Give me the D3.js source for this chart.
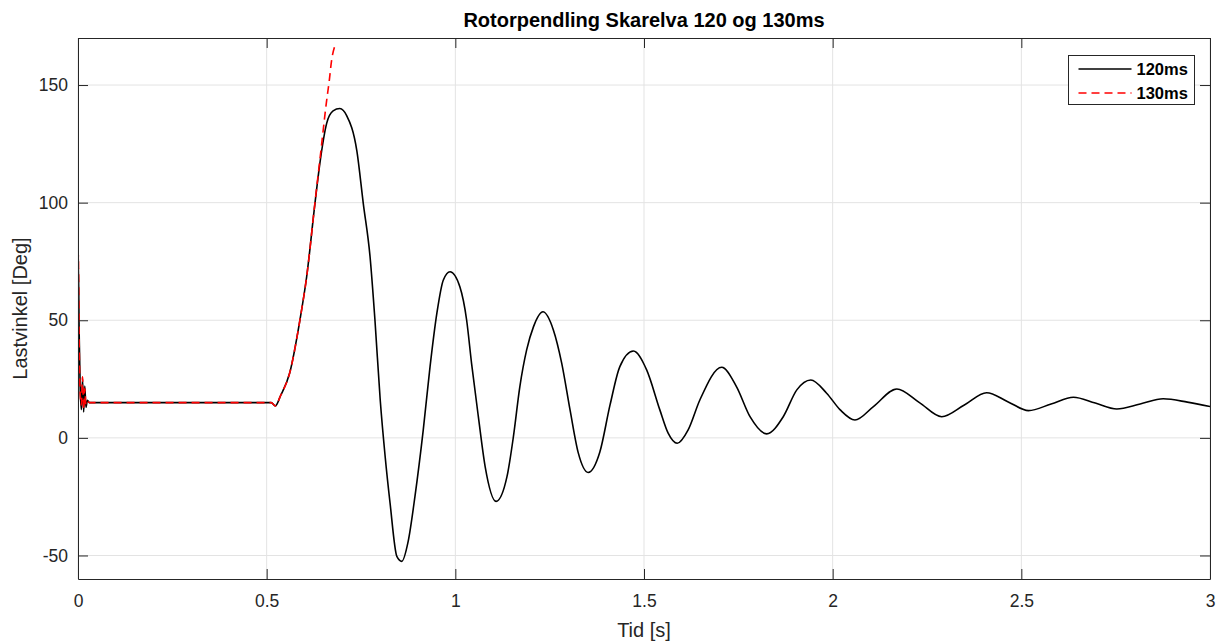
<!DOCTYPE html>
<html>
<head>
<meta charset="utf-8">
<script src="https://cdn.jsdelivr.net/npm/d3@7"></script>
<style>
  html, body { margin: 0; padding: 0; background: #ffffff; }
  svg { display: block; font-family: "Liberation Sans", Arial, Helvetica, sans-serif; }
</style>
</head>
<body>
<svg id="chart" width="1217" height="641"></svg>
<script>
// Load angle after the fault, two clearing times.
const seriesNames = ["120ms", "130ms"];

// 120 ms clearing time: time [s]
const time120 = [
  0, 0.0008, 0.003, 0.006, 0.009, 0.012, 0.015, 0.018, 0.021, 0.025, 0.03,
  0.25, 0.50, 0.512, 0.523, 0.537, 0.561, 0.588, 0.606, 0.628, 0.641, 0.659, 0.676,
  0.694, 0.712, 0.739, 0.756, 0.774, 0.787, 0.801, 0.814, 0.827, 0.845, 0.858,
  0.875, 0.893, 0.915, 0.933, 0.951, 0.968, 0.986, 1.012, 1.030, 1.043, 1.061, 1.079,
  1.108, 1.137, 1.154, 1.171, 1.189, 1.207, 1.232, 1.260, 1.282, 1.304, 1.326,
  1.352, 1.383, 1.410, 1.436, 1.472, 1.507, 1.542, 1.564, 1.588, 1.617, 1.648,
  1.706, 1.745, 1.781, 1.825, 1.869, 1.905, 1.942, 1.984, 2.020, 2.059, 2.108,
  2.170, 2.230, 2.289, 2.349, 2.408, 2.464, 2.519, 2.579, 2.638, 2.696, 2.753,
  2.815, 2.876, 2.940, 3.0
];
// 120 ms clearing time: load angle [deg]
const angle120 = [
  -12, 76, 45, 20, 12, 25, 11, 22, 13, 16, 15,
  15, 15, 15, 13.6, 18, 27.6, 50, 68.5, 99.7, 116.7, 133.7, 139,
  140, 137, 122, 99.7, 77, 50, 16, -7.9, -27.7, -50.4, -52.5,
  -44, -24.9, 3.4, 30.3, 52.9, 67, 70.6, 64.2, 50, 31.7, 9, -12.2,
  -27, -16.4, 0.6, 21.8, 37.4, 47.2, 53.6, 45.8, 31.7, 11.9, -6.5,
  -14.7, -6, 14, 30.3, 36.9, 28.9, 11.9, 2, -2.3, 3.4, 16.1,
  30, 21.8, 9, 1.7, 9, 20.4, 24.6, 19, 11.9, 7.6, 13.3,
  20.8, 15, 9, 14, 19.2, 15.4, 11.6, 14.4, 17.3, 14.8, 12.3,
  14.4, 16.6, 15.2, 13.3
];

// 130 ms clearing time: time [s]
const time130 = [
  0, 0.0008, 0.003, 0.006, 0.009, 0.012, 0.015, 0.018, 0.021, 0.025, 0.03,
  0.25, 0.50, 0.512, 0.523, 0.537, 0.561, 0.588, 0.606, 0.628, 0.643, 0.659,
  0.666, 0.672, 0.681
];
// 130 ms clearing time: load angle [deg]
const angle130 = [
  -13, 78, 42, 18, 14, 26, 12, 21, 14, 15.5, 15,
  15, 15, 15, 13.6, 18, 27.6, 50, 68.5, 100, 121, 143.5,
  152, 160.4, 166.8
];

const xTicks = [0, 0.5, 1, 1.5, 2, 2.5, 3];
const yTicks = [-50, 0, 50, 100, 150];
const xDomain = [0, 3];
const yDomain = [-60, 170];

const titleText = "Rotorpendling Skarelva 120 og 130ms";
const xLabelText = "Tid [s]";
const yLabelText = "Lastvinkel [Deg]";

// ---- layout ----
const W = 1217, H = 641;
const margin = { left: 78, right: 7, top: 38, bottom: 62 };
const pw = W - margin.left - margin.right;
const ph = H - margin.top - margin.bottom;
const axisColor = "#262626";
const gridColor = "#e3e3e3";
const tickLen = 10;
const fontFamily = "'Liberation Sans', Arial, sans-serif";

const svg = d3.select("#chart");
const g = svg.append("g").attr("transform", `translate(${margin.left},${margin.top})`);

const x = d3.scaleLinear().domain(xDomain).range([0, pw]);
const y = d3.scaleLinear().domain(yDomain).range([ph, 0]);

// grid
g.append("g").selectAll("line").data(xTicks).join("line")
  .attr("x1", d => x(d)).attr("x2", d => x(d))
  .attr("y1", 0).attr("y2", ph)
  .attr("stroke", gridColor).attr("stroke-width", 1);
g.append("g").selectAll("line").data(yTicks).join("line")
  .attr("x1", 0).attr("x2", pw)
  .attr("y1", d => y(d)).attr("y2", d => y(d))
  .attr("stroke", gridColor).attr("stroke-width", 1);

// clip for data
svg.append("defs").append("clipPath").attr("id", "plotClip")
  .append("rect").attr("x", 0).attr("y", 0).attr("width", pw).attr("height", ph);

const line = d3.line()
  .x(d => x(d[0]))
  .y(d => y(d[1]))
  .curve(d3.curveMonotoneX);

const data120 = time120.map((t, i) => [t, angle120[i]]);
const data130 = time130.map((t, i) => [t, angle130[i]]);

const plot = g.append("g").attr("clip-path", "url(#plotClip)");
plot.append("path").datum(data120)
  .attr("d", line)
  .attr("fill", "none")
  .attr("stroke", "#000000")
  .attr("stroke-width", 1.6)
  .attr("stroke-linejoin", "round");
plot.append("path").datum(data130)
  .attr("d", line)
  .attr("fill", "none")
  .attr("stroke", "#ff0000")
  .attr("stroke-width", 1.6)
  .attr("stroke-dasharray", "8,5");

// axes (inward ticks on all four sides)
const fmt = d => String(d);
const axB = d3.axisBottom(x).tickValues(xTicks).tickFormat(fmt).tickSizeInner(-tickLen).tickSizeOuter(0).tickPadding(16);
const axT = d3.axisTop(x).tickValues(xTicks).tickFormat("").tickSizeInner(-tickLen).tickSizeOuter(0);
const axL = d3.axisLeft(y).tickValues(yTicks).tickFormat(fmt).tickSizeInner(-tickLen).tickSizeOuter(0).tickPadding(10);
const axR = d3.axisRight(y).tickValues(yTicks).tickFormat("").tickSizeInner(-tickLen).tickSizeOuter(0);

function styleAxis(sel) {
  sel.selectAll("path").attr("stroke", axisColor).attr("stroke-width", 1);
  sel.selectAll("line").attr("stroke", axisColor).attr("stroke-width", 1);
  sel.selectAll("text").attr("fill", axisColor).style("font-size", "17.5px")
     .style("font-family", fontFamily);
}
g.append("g").attr("transform", `translate(0,${ph})`).call(axB).call(styleAxis);
g.append("g").call(axT).call(styleAxis);
g.append("g").call(axL).call(styleAxis);
g.append("g").attr("transform", `translate(${pw},0)`).call(axR).call(styleAxis);

// title and axis labels
svg.append("text")
  .attr("x", margin.left + pw / 2).attr("y", 27)
  .attr("text-anchor", "middle")
  .attr("fill", "#000")
  .style("font-size", "20px").style("font-weight", "bold")
  .text(titleText);

svg.append("text")
  .attr("x", margin.left + pw / 2).attr("y", 637)
  .attr("text-anchor", "middle")
  .attr("fill", axisColor)
  .style("font-size", "20px")
  .text(xLabelText);

svg.append("text")
  .attr("transform", `translate(27,${margin.top + ph / 2}) rotate(-90)`)
  .attr("text-anchor", "middle")
  .attr("fill", axisColor)
  .style("font-size", "20px")
  .text(yLabelText);

// legend
const legend = svg.append("g").attr("transform", "translate(1068.5,55.5)");
legend.append("rect")
  .attr("width", 126).attr("height", 49)
  .attr("fill", "#ffffff").attr("stroke", axisColor).attr("stroke-width", 1);
const legendItems = [
  { name: seriesNames[0], color: "#000000", dash: null },
  { name: seriesNames[1], color: "#ff0000", dash: "8,5" }
];
legendItems.forEach((it, i) => {
  const yy = 13.5 + i * 24;
  legend.append("line")
    .attr("x1", 10).attr("x2", 63).attr("y1", yy).attr("y2", yy)
    .attr("stroke", it.color).attr("stroke-width", 1.6)
    .attr("stroke-dasharray", it.dash);
  legend.append("text")
    .attr("x", 68).attr("y", yy + 6)
    .attr("fill", "#000")
    .style("font-size", "16.5px").style("font-weight", "bold")
    .text(it.name);
});
</script>
</body>
</html>
